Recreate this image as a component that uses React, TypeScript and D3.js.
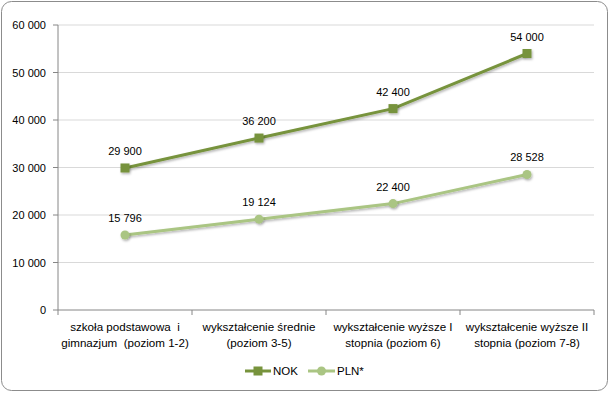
import React from "react";
import * as d3 from "d3";

const categories = [
  ["szkoła podstawowa  i", "gimnazjum  (poziom 1-2)"],
  ["wykształcenie średnie", "(poziom 3-5)"],
  ["wykształcenie wyższe I", "stopnia (poziom 6)"],
  ["wykształcenie wyższe II", "stopnia (poziom 7-8)"],
];
const nokValues = [29900, 36200, 42400, 54000];
const plnValues = [15796, 19124, 22400, 28528];
const yTicks = [0, 10000, 20000, 30000, 40000, 50000, 60000];

const W = 610;
const H = 393;
const left = 58;
const right = 594;
const top = 25;
const bottom = 310;
const darkGreen = "#77933c";
const lightGreen = "#aac583";
const font = "'Liberation Sans', Arial, sans-serif";

const fmt = (v: number) => d3.format(",")(v).replace(/,/g, " ");

export default function App() {
  const x = d3
    .scaleBand<number>()
    .domain(d3.range(categories.length))
    .range([left, right]);
  const y = d3.scaleLinear().domain([0, 60000]).range([bottom, top]);
  const cx = (i: number) => (x(i) as number) + x.bandwidth() / 2;
  const line = d3
    .line<number>()
    .x((_, i) => cx(i))
    .y((d) => y(d));

  return (
    <svg
      width={W}
      height={H}
      style={{ position: "absolute", left: 0, top: 0, fontFamily: font }}
    >
      <defs>
        <filter id="sh" x="-50%" y="-50%" width="200%" height="200%">
          <feDropShadow dx="1" dy="1.5" stdDeviation="1" floodOpacity="0.3" />
        </filter>
      </defs>
      <rect x={0} y={0} width={W} height={H} fill="#fff" />
      <rect
        x={1.5}
        y={1.5}
        width={W - 4}
        height={H - 4}
        rx={10}
        fill="#fff"
        stroke="#8c8c8c"
        strokeWidth={1}
      />
      {yTicks.map((t) => (
        <g key={t}>
          {t > 0 && (
            <line x1={left} x2={right} y1={y(t)} y2={y(t)} stroke="#d9d9d9" />
          )}
          <line x1={left - 5} x2={left} y1={y(t)} y2={y(t)} stroke="#868686" />
          <text
            x={left - 12}
            y={y(t) + 4}
            textAnchor="end"
            fontSize={11}
            fill="#000"
          >
            {fmt(t)}
          </text>
        </g>
      ))}
      <line x1={left} x2={left} y1={top} y2={bottom} stroke="#868686" />
      <line x1={left} x2={right} y1={bottom} y2={bottom} stroke="#868686" />
      {d3.range(categories.length + 1).map((i) => {
        const xx = i < categories.length ? (x(i) as number) : right;
        return (
          <line key={i} x1={xx} x2={xx} y1={bottom} y2={bottom + 5} stroke="#868686" />
        );
      })}
      {categories.map((c, i) => (
        <text
          key={i}
          textAnchor="middle"
          fontSize={11.6}
          fill="#000"
          style={{ whiteSpace: "pre" }}
        >
          <tspan x={cx(i)} y={331}>{c[0]}</tspan>
          <tspan x={cx(i)} y={347}>{c[1]}</tspan>
        </text>
      ))}

      <path d={line(plnValues) || ""} fill="none" stroke={lightGreen} strokeWidth={3} filter="url(#sh)" />
      <path d={line(nokValues) || ""} fill="none" stroke={darkGreen} strokeWidth={3} filter="url(#sh)" />
      {plnValues.map((v, i) => (
        <g key={i}>
          <circle cx={cx(i)} cy={y(v)} r={4.5} fill={lightGreen} filter="url(#sh)" />
          <text x={cx(i)} y={y(v) - 13} textAnchor="middle" fontSize={11} fill="#000">
            {fmt(v)}
          </text>
        </g>
      ))}
      {nokValues.map((v, i) => (
        <g key={i}>
          <rect x={cx(i) - 4.5} y={y(v) - 4.5} width={9} height={9} fill={darkGreen} filter="url(#sh)" />
          <text x={cx(i)} y={y(v) - 13} textAnchor="middle" fontSize={11} fill="#000">
            {fmt(v)}
          </text>
        </g>
      ))}

      <g fontSize={11.5}>
        <line x1={245} x2={271} y1={371} y2={371} stroke={darkGreen} strokeWidth={3} />
        <rect x={253.5} y={366.5} width={9} height={9} fill={darkGreen} />
        <text x={273} y={375}>NOK</text>
        <line x1={308} x2={335} y1={371} y2={371} stroke={lightGreen} strokeWidth={3} />
        <circle cx={321.5} cy={371} r={4.5} fill={lightGreen} />
        <text x={337} y={375}>PLN*</text>
      </g>
    </svg>
  );
}
